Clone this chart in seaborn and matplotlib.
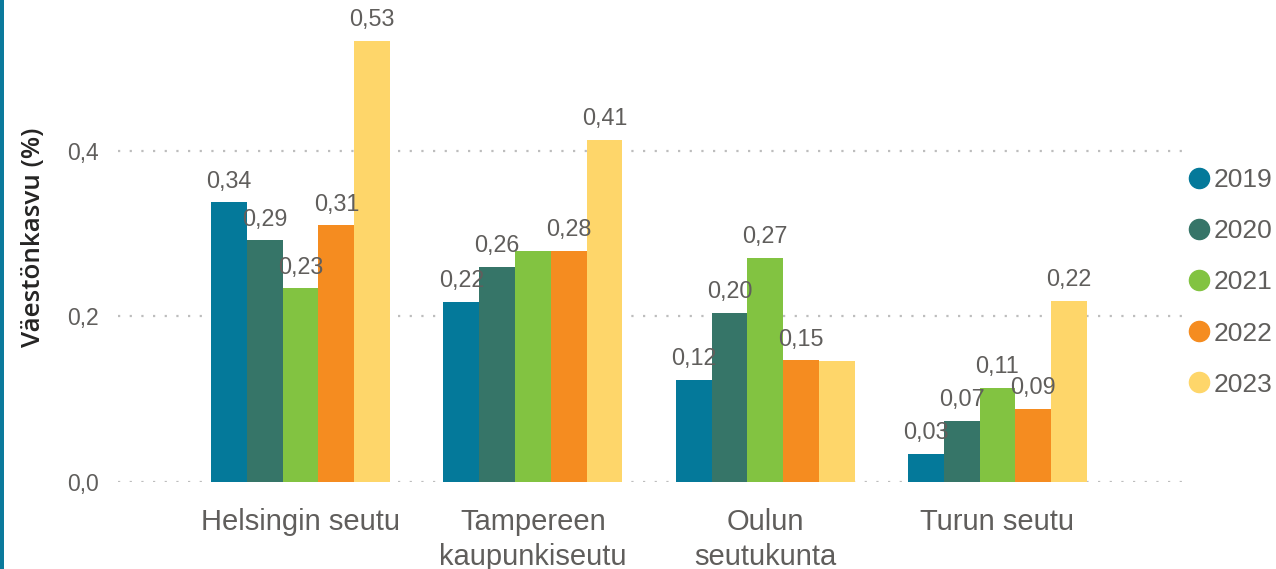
import matplotlib
matplotlib.use("Agg")
import matplotlib.pyplot as plt
import matplotlib.patches as mpatches
from matplotlib.lines import Line2D
import pandas as pd
import seaborn as sns

# ---------- DATA ----------
REGIONS = ["Helsingin seutu", "Tampereen\nkaupunkiseutu", "Oulun\nseutukunta", "Turun seutu"]
YEARS = ["2019", "2020", "2021", "2022", "2023"]
V2019 = [0.338, 0.218, 0.123, 0.034]
V2020 = [0.292, 0.260, 0.204, 0.074]
V2021 = [0.234, 0.279, 0.271, 0.114]
V2022 = [0.310, 0.279, 0.147, 0.088]
V2023 = [0.533, 0.413, 0.146, 0.219]
# labels the original chart leaves out (overlap)
HIDDEN = {("Tampereen\nkaupunkiseutu", "2021"), ("Oulun\nseutukunta", "2023")}
YTICKS = [0.0, 0.2, 0.4]

COLORS = ["#04799A", "#367568", "#82C341", "#F58C20", "#FED66A"]
TEXT_GRAY = "#605E5C"

sns.set_style("white")
plt.rcParams["font.family"] = ["Liberation Sans", "DejaVu Sans"]

rows = []
for year, vals in zip(YEARS, [V2019, V2020, V2021, V2022, V2023]):
    for reg, v in zip(REGIONS, vals):
        rows.append(dict(region=reg, year=year, value=v))
df = pd.DataFrame(rows)

fig = plt.figure(figsize=(12.76, 5.69), dpi=100)
ax = fig.add_axes([118 / 1276, 87 / 569, (1187 - 118) / 1276, (482 - 2) / 569])

sns.barplot(data=df, x="region", y="value", hue="year", order=REGIONS,
            hue_order=YEARS, palette=COLORS, width=0.77, saturation=1,
            legend=False, ax=ax, zorder=2, linewidth=0, edgecolor="none")

# data labels
for year, cont in zip(YEARS, ax.containers):
    labels = []
    for reg, bar in zip(REGIONS, cont):
        if (reg, year) in HIDDEN:
            labels.append("")
        else:
            labels.append(f"{bar.get_height():.2f}".replace(".", ","))
    ax.bar_label(cont, labels=labels, padding=7, fontsize=16.8, color=TEXT_GRAY)

ax.set_xlim(-0.786, 3.816)
ax.set_ylim(0, 0.58)
ax.set_yticks(YTICKS)
ax.set_yticklabels([f"{t:.1f}".replace(".", ",") for t in YTICKS])
ax.yaxis.grid(True, color="#BDBDBD", linestyle=(0, (1, 4.25)), linewidth=1.6, zorder=0)
ax.set_axisbelow(True)
for s in ax.spines.values():
    s.set_visible(False)
ax.tick_params(axis="y", length=0, pad=14, labelsize=16.5, labelcolor=TEXT_GRAY)
ax.tick_params(axis="x", length=0, pad=19, labelsize=21, labelcolor=TEXT_GRAY)
for t in ax.get_xticklabels():
    t.set_linespacing(1.3)
ax.set_xlabel("")
ax.set_ylabel("Väestönkasvu (%)", fontsize=18.7, color="#252423",
              fontfamily=["Open Sans", "DejaVu Sans"], fontweight="semibold")
ax.yaxis.set_label_coords((46 - 118) / 1069, 0.51)

# legend with round markers
handles = [Line2D([], [], marker="o", linestyle="", markersize=14.5,
                  markerfacecolor=c, markeredgecolor=c) for c in COLORS]
leg = fig.legend(handles, YEARS, loc="upper left",
                 bbox_to_anchor=(1188.5 / 1276, 1 - 168 / 569),
                 frameon=False, fontsize=19, borderpad=0, handlelength=0.8,
                 handletextpad=0.15, labelspacing=1.03, borderaxespad=0)
for t in leg.get_texts():
    t.set_color(TEXT_GRAY)

# blue frame edge on the left
fig.add_artist(mpatches.Rectangle((0, 0), 4 / 1276, 1, transform=fig.transFigure,
                                  color="#0B7A9C", lw=0))

fig.savefig("out.png", dpi=100)
